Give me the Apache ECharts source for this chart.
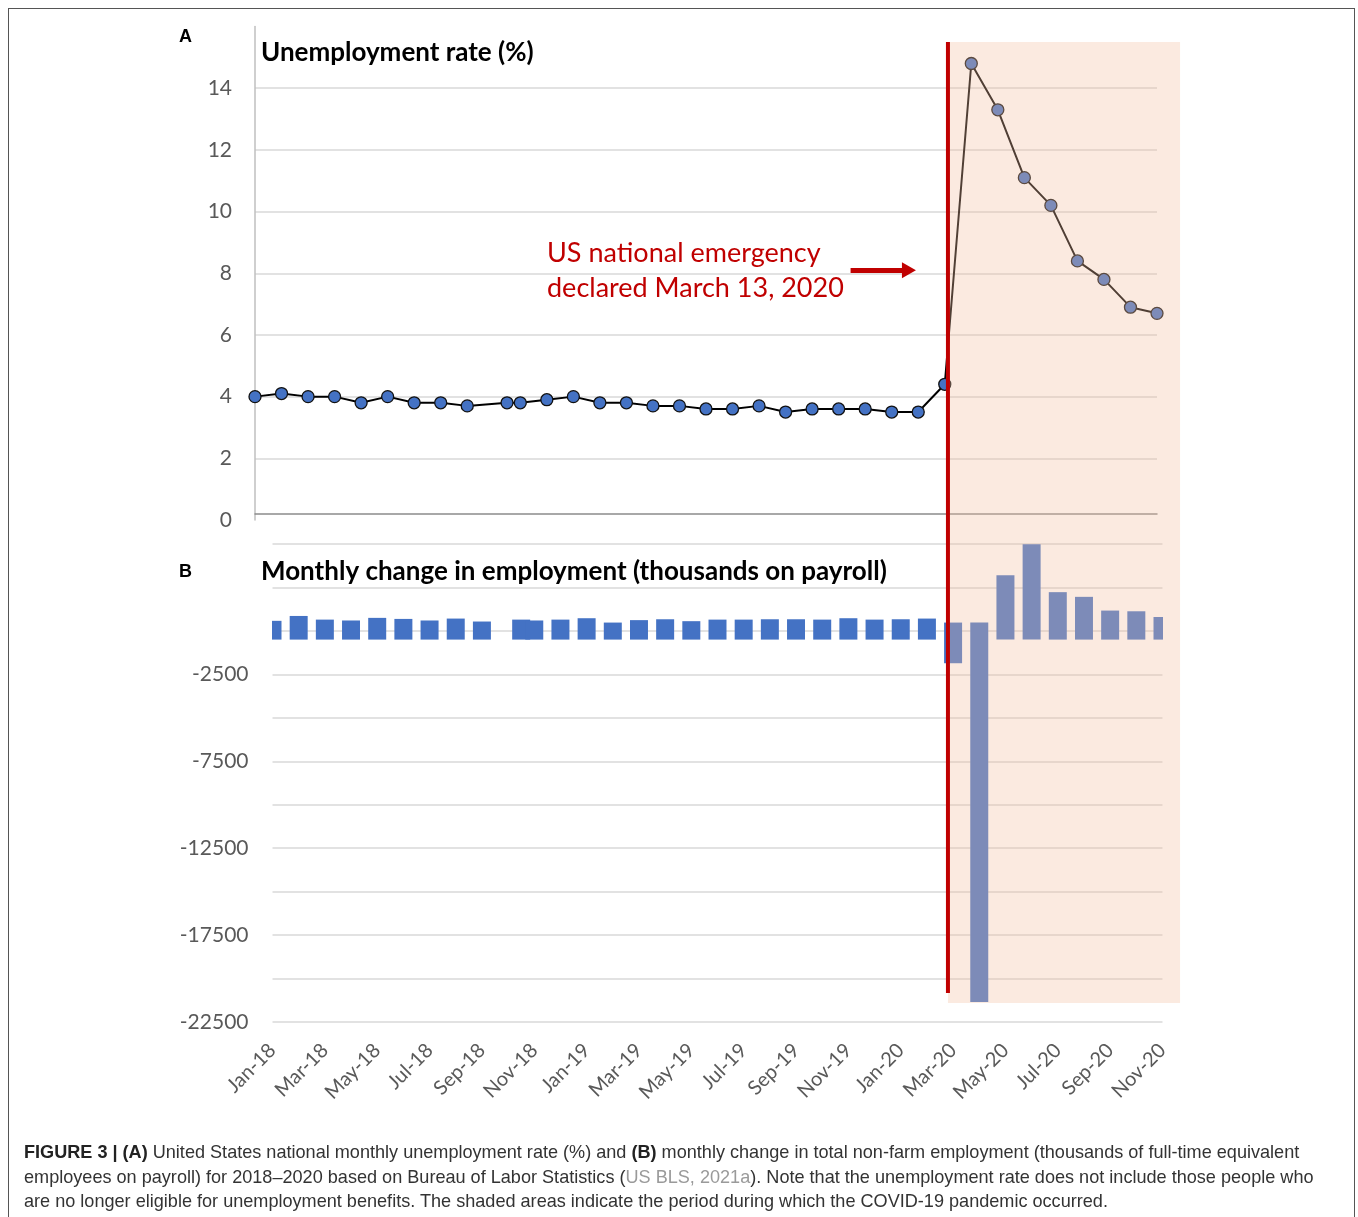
<!DOCTYPE html>
<html>
<head>
<meta charset="utf-8">
<script src="https://cdn.jsdelivr.net/npm/echarts@6/dist/echarts.min.js"></script>
<style>
  html, body { margin: 0; padding: 0; background: #fff; }
  #frame {
    position: absolute; left: 8px; top: 8px; width: 1347px; height: 1230px;
    border: 1.5px solid #555; box-sizing: border-box;
  }
  #chart { position: absolute; left: 0; top: 0; width: 1358px; height: 1217px; }
  #caption {
    position: absolute; left: 24px; top: 1140px;
    font-family: 'Liberation Sans', Arial, sans-serif; font-size: 18.1px;
    line-height: 24.6px; color: #333; white-space: nowrap;
  }
  #caption b { color: #222; }
  #caption .ref { color: #9a9a9a; }
</style>
</head>
<body>
<div id="frame"></div>
<div id="chart"></div>
<div id="caption">
  <b>FIGURE 3 | (A)</b> United States national monthly unemployment rate (%) and <b>(B)</b> monthly change in total non-farm employment (thousands of full-time equivalent<br>
  employees on payroll) for 2018–2020 based on Bureau of Labor Statistics (<span class="ref">US BLS, 2021a</span>). Note that the unemployment rate does not include those people who<br>
  are no longer eligible for unemployment benefits. The shaded areas indicate the period during which the COVID-19 pandemic occurred.
</div>
<script>
// month position on the date axis (0 = Jan-18); Oct-18 sits mid-month in the source
const monthPos = [0, 1, 2, 3, 4, 5, 6, 7, 8, 9.5, 10, 11,
  12, 13, 14, 15, 16, 17, 18, 19, 20, 21, 22, 23,
  24, 25, 26, 27, 28, 29, 30, 31, 32, 33, 34]

// unemployment rate (%)
const unempRate = [4.0, 4.1, 4.0, 4.0, 3.8, 4.0, 3.8, 3.8, 3.7, 3.8, 3.8, 3.9,
  4.0, 3.8, 3.8, 3.7, 3.7, 3.6, 3.6, 3.7, 3.5, 3.6, 3.6, 3.6,
  3.5, 3.5, 4.4, 14.8, 13.3, 11.1, 10.2, 8.4, 7.8, 6.9, 6.7]

// monthly change in payroll (thousands) - value end of each bar
const jobChange = [580, 860, 650, 600, 750, 690, 600, 710, 540, 650, 600, 650,
  730, 480, 620, 670, 560, 650, 650, 670, 670, 650, 730, 650,
  670, 710, -1860, -21350, 3200, 4990, 2230, 1960, 1170, 1130, 800]

// the bars in the source cross the zero line a little on the other side
const stubUp = 480
const stubDown = -500

const tickLabels = ['Jan-18', 'Mar-18', 'May-18', 'Jul-18', 'Sep-18', 'Nov-18',
  'Jan-19', 'Mar-19', 'May-19', 'Jul-19', 'Sep-19', 'Nov-19',
  'Jan-20', 'Mar-20', 'May-20', 'Jul-20', 'Sep-20', 'Nov-20']

// emergency marker and shaded covid period (month position / axis values)
const emergencyPos = 26.12
const shadeEnd = 34.87
const shadeTopRate = 15.5
const shadeBottomJobs = -21400
const redLineBottomJobs = -20830

const chart = echarts.init(document.getElementById('chart'))

const labelFont = 'Lato, "Open Sans", sans-serif'
const blue = '#4472C4'

// each bar runs from its low to its high end
const barRows = monthPos.map((x, i) => {
  const v = jobChange[i]
  return v >= 0 ? [x, stubDown, v] : [x, v, stubUp]
})

const option = {
  animation: false,
  title: [
    { text: 'A', left: 179, top: 28, padding: 0,
      textStyle: { fontFamily: 'Liberation Sans', fontWeight: 'bold', fontSize: 18, color: '#000' } },
    { text: 'Unemployment rate (%)', left: 261, top: 40, padding: 0,
      textStyle: { fontFamily: labelFont, fontWeight: 'bold', fontSize: 26, color: '#000' } },
    { text: 'B', left: 179, top: 563, padding: 0,
      textStyle: { fontFamily: 'Liberation Sans', fontWeight: 'bold', fontSize: 18, color: '#000' } },
    { text: 'Monthly change in employment (thousands on payroll)', left: 261, top: 559, padding: 0,
      textStyle: { fontFamily: labelFont, fontWeight: 'bold', fontSize: 26, color: '#000' } },
    { text: 'US national emergency\ndeclared March 13, 2020', left: 547, top: 236, padding: 0,
      textStyle: { fontFamily: labelFont, fontWeight: 'normal', fontSize: 27, lineHeight: 35, color: '#C00000' } },
  ],
  grid: [
    { left: 255, right: 201, top: 26.5, bottom: 697 },
    { left: 272.5, right: 195.5, top: 544, bottom: 195 },
  ],
  xAxis: [
    {
      gridIndex: 0, type: 'value', min: 0, max: 34, offset: -6,
      axisLine: { show: true, onZero: false, lineStyle: { color: '#8c8c8c', width: 1.5 } },
      axisTick: { show: false }, axisLabel: { show: false }, splitLine: { show: false },
    },
    {
      gridIndex: 1, type: 'value', min: 0, max: 34, interval: 2,
      axisLine: { show: false }, axisTick: { show: false }, splitLine: { show: false },
      axisLabel: {
        rotate: 45, margin: 25, fontSize: 20, color: '#595959', fontFamily: labelFont,
        formatter: v => tickLabels[v / 2] || '',
      },
    },
  ],
  yAxis: [
    {
      gridIndex: 0, type: 'value', min: 0, max: 16, interval: 2,
      axisLine: { show: true, lineStyle: { color: '#bfbfbf', width: 1.5 } },
      axisTick: { show: false },
      axisLabel: { showMaxLabel: false, fontSize: 21, color: '#595959', fontFamily: labelFont, margin: 23 },
      splitLine: { showMaxLine: false, showMinLine: false, lineStyle: { color: '#d9d9d9', width: 1.5 } },
    },
    {
      gridIndex: 1, type: 'value', min: -22500, max: 5000, interval: 2500,
      axisLine: { show: false }, axisTick: { show: false },
      axisLabel: {
        fontSize: 21, color: '#595959', fontFamily: labelFont, margin: 24,
        formatter: v => (v < 0 && (v + 2500) % 5000 === 0) ? String(v) : '',
      },
      splitLine: { lineStyle: { color: '#d9d9d9', width: 1.5 } },
    },
  ],
  series: [
    {
      name: 'Unemployment rate',
      type: 'line',
      xAxisIndex: 0, yAxisIndex: 0,
      data: monthPos.map((x, i) => [x, unempRate[i]]),
      symbol: 'circle', symbolSize: 12,
      itemStyle: { color: blue, borderColor: '#111', borderWidth: 1.3 },
      lineStyle: { color: '#000', width: 2 },
      z: 4,
      markLine: {
        silent: true,
        symbol: ['none', 'triangle'],
        symbolSize: [16, 14],
        lineStyle: { color: '#C00000', width: 5, type: 'solid' },
        label: { show: false },
        data: [[{ coord: [22.45, 8.1] }, { coord: [24.65, 8.1] }]],
      },
    },
    {
      name: 'Payroll change',
      type: 'custom',
      xAxisIndex: 1, yAxisIndex: 1,
      data: barRows,
      encode: { x: 0, y: [1, 2] },
      clip: true,
      renderItem: (params, api) => {
        const x = api.value(0)
        const lo = api.coord([x, api.value(1)])
        const hi = api.coord([x, api.value(2)])
        const w = 18
        return {
          type: 'rect',
          shape: { x: lo[0] - w / 2, y: hi[1], width: w, height: lo[1] - hi[1] },
          style: { fill: blue },
        }
      },
    },
  ],
}

chart.setOption(option)

// shaded covid period and emergency line, placed through the axes
const xL = chart.convertToPixel({ xAxisIndex: 0 }, emergencyPos)
const xR = chart.convertToPixel({ xAxisIndex: 0 }, shadeEnd)
const yT = chart.convertToPixel({ yAxisIndex: 0 }, shadeTopRate)
const yB = chart.convertToPixel({ yAxisIndex: 1 }, shadeBottomJobs)
const yRed = chart.convertToPixel({ yAxisIndex: 1 }, redLineBottomJobs)

chart.setOption({
  graphic: [
    {
      type: 'rect', z: 50,
      shape: { x: xL, y: yT, width: xR - xL, height: yB - yT },
      style: { fill: 'rgba(244,190,160,0.33)' },
    },
    {
      type: 'line', z: 60,
      shape: { x1: xL, y1: yT, x2: xL, y2: yRed },
      style: { stroke: '#C00000', lineWidth: 4 },
    },
  ],
})
</script>
</body>
</html>
